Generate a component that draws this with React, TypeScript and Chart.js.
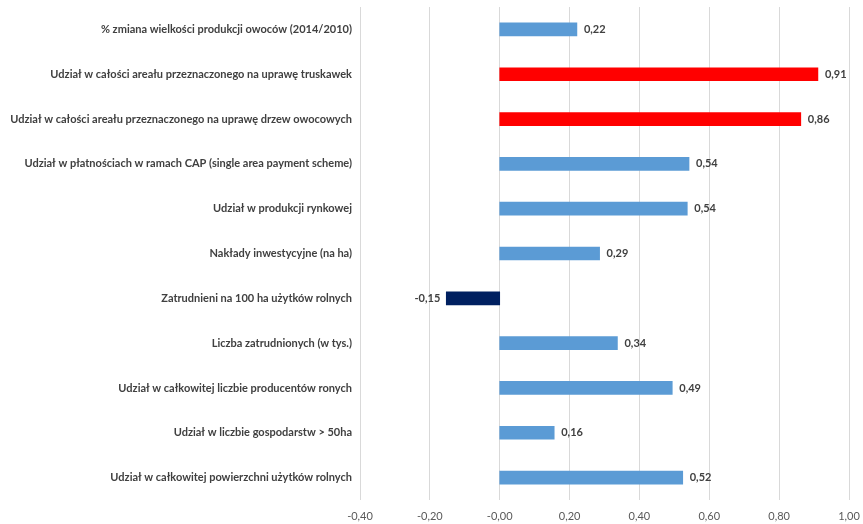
import React, { useEffect, useRef } from "react";
import { Chart, registerables } from "chart.js";

Chart.register(...registerables);

const categories: string[] = [
  "% zmiana wielkości produkcji owoców (2014/2010)",
  "Udział w całości areału przeznaczonego na uprawę truskawek",
  "Udział w całości areału przeznaczonego na uprawę drzew owocowych",
  "Udział w płatnościach w ramach CAP (single area payment scheme)",
  "Udział w produkcji rynkowej",
  "Nakłady inwestycyjne (na ha)",
  "Zatrudnieni na 100 ha użytków rolnych",
  "Liczba zatrudnionych (w tys.)",
  "Udział w całkowitej liczbie producentów ronych",
  "Udział w liczbie gospodarstw > 50ha",
  "Udział w całkowitej powierzchni użytków rolnych",
];

const values: number[] = [0.221, 0.911, 0.862, 0.542, 0.537, 0.286, -0.153, 0.337, 0.494, 0.156, 0.524];

const highlighted: string[] = [
  "Udział w całości areału przeznaczonego na uprawę truskawek",
  "Udział w całości areału przeznaczonego na uprawę drzew owocowych",
];

const axisMin = -0.4;
const axisMax = 1.0;
const axisStep = 0.2;

const BLUE = "#5B9BD5";
const RED = "#FF0000";
const NAVY = "#002060";
const FONT = "Lato, 'Liberation Sans', sans-serif";

const fmt = (v: number) => v.toFixed(2).replace(".", ",");

const valueLabels = {
  id: "valueLabels",
  afterDatasetsDraw(chart: any) {
    const ctx = chart.ctx;
    const meta = chart.getDatasetMeta(0);
    ctx.save();
    ctx.font = `bold 11px ${FONT}`;
    ctx.fillStyle = "#404040";
    ctx.textBaseline = "middle";
    meta.data.forEach((bar: any, i: number) => {
      const v = values[i];
      if (v < 0) {
        ctx.textAlign = "right";
        ctx.fillText(fmt(v), bar.x - 6, bar.y);
      } else {
        ctx.textAlign = "left";
        ctx.fillText(fmt(v), bar.x + 7, bar.y);
      }
    });
    ctx.restore();
  },
};

export default function App() {
  const ref = useRef<HTMLCanvasElement | null>(null);

  useEffect(() => {
    if (!ref.current) return;
    const colors = values.map((v, i) =>
      v < 0 ? NAVY : highlighted.includes(categories[i]) ? RED : BLUE
    );
    const chart = new Chart(ref.current, {
      type: "bar",
      data: {
        labels: categories,
        datasets: [
          {
            data: values,
            backgroundColor: colors,
            borderWidth: 0,
            barThickness: 13,
          },
        ],
      },
      plugins: [valueLabels],
      options: {
        indexAxis: "y",
        animation: false,
        responsive: true,
        maintainAspectRatio: false,
        layout: { autoPadding: false, padding: { top: 7, right: 14, left: 0, bottom: 0 } },
        plugins: {
          legend: { display: false },
          tooltip: { enabled: false },
          title: { display: false },
        },
        scales: {
          x: {
            min: axisMin,
            max: axisMax,
            ticks: {
              stepSize: axisStep,
              color: "#595959",
              font: { family: FONT, size: 11 },
              padding: 10,
              callback: (v: any) => fmt(Number(v)),
            },
            grid: { color: "#D9D9D9", drawTicks: false, lineWidth: 1 },
            border: { display: false },
            afterFit: (scale: any) => {
              scale.height = 24;
              scale.paddingLeft = 0;
              scale.paddingRight = 0;
              scale.paddingTop = 0;
              scale.paddingBottom = 0;
            },
          },
          y: {
            ticks: {
              color: "#404040",
              font: { family: FONT, size: 11, weight: "bold" },
              padding: 8,
            },
            grid: { display: false, drawTicks: false },
            border: { display: false },
            afterFit: (scale: any) => {
              scale.width = 360;
              scale.paddingLeft = 0;
              scale.paddingRight = 0;
              scale.paddingTop = 0;
              scale.paddingBottom = 0;
            },
          },
        },
      },
    });
    return () => chart.destroy();
  }, []);

  return (
    <div style={{ position: "fixed", left: 0, top: 0, width: 863, height: 524, background: "#fff" }}>
      <canvas ref={ref} />
    </div>
  );
}
